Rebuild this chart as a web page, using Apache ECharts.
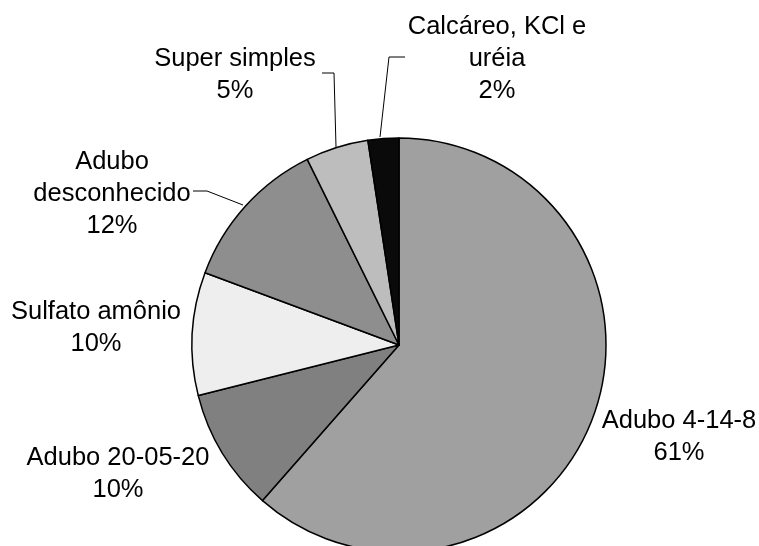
<!DOCTYPE html>
<html>
<head>
<meta charset="utf-8">
<script src="https://cdn.jsdelivr.net/npm/echarts@6/dist/echarts.min.js"></script>
<style>
html,body{margin:0;padding:0;background:#fff;}
#chart{width:759px;height:546px;}
</style>
</head>
<body>
<div id="chart"></div>
<script>
// Data (labels show rounded percentages)
const categories = ['Adubo 4-14-8', 'Adubo 20-05-20', 'Sulfato amônio', 'Adubo\ndesconhecido', 'Super simples', 'Calcáreo, KCl e\nuréia'];
const values = [61.4, 9.6, 9.6, 12.0, 4.9, 2.4];
const colors = ['#a0a0a0', '#808080', '#eeeeee', '#8e8e8e', '#bdbdbd', '#0a0a0a'];

// Label placement (center x, middle y) and leader lines
const labelPos = [
  [679, 437], [118, 474], [96, 328], [112, 194], [235, 75], [497, 59]
];
const labelLines = [
  null, null, null,
  [[243, 205], [207, 191], [193, 191]],
  [[336, 147], [334, 73], [322, 73]],
  [[380, 137], [389, 57], [405, 57]]
];

const chart = echarts.init(document.getElementById('chart'), null, {renderer: 'canvas'});
chart.setOption({
  animation: false,
  backgroundColor: '#ffffff',
  series: [{
    type: 'pie',
    center: [399, 345],
    radius: 207,
    startAngle: 90,
    clockwise: true,
    avoidLabelOverlap: false,
    data: categories.map((c, i) => ({
      name: c,
      value: values[i],
      itemStyle: {color: colors[i]},
      labelLine: {show: labelLines[i] !== null}
    })),
    itemStyle: {borderColor: '#000', borderWidth: 1.5},
    emphasis: {disabled: true},
    label: {
      show: true,
      position: 'outside',
      formatter: p => p.name + '\n' + Math.round(p.value) + '%',
      fontFamily: 'Liberation Sans, Arial, sans-serif',
      fontSize: 25.5,
      lineHeight: 32,
      color: '#000',
      align: 'center'
    },
    labelLine: {
      show: true,
      lineStyle: {color: '#000', width: 1}
    },
    labelLayout: function (params) {
      const i = params.dataIndex;
      const out = {
        x: labelPos[i][0],
        y: labelPos[i][1],
        align: 'center',
        verticalAlign: 'middle'
      };
      if (labelLines[i]) out.labelLinePoints = labelLines[i];
      return out;
    }
  }]
});
</script>
</body>
</html>
